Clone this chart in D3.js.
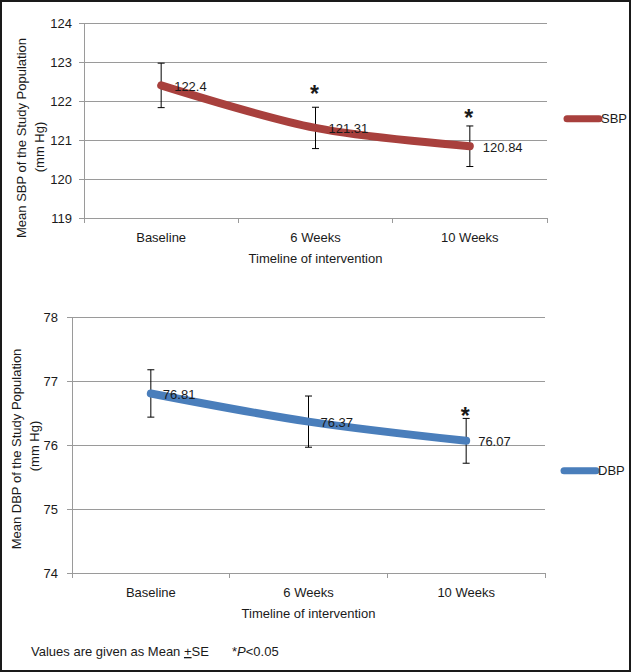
<!DOCTYPE html>
<html>
<head>
<meta charset="utf-8">
<script src="https://cdn.jsdelivr.net/npm/d3@7"></script>
<style>
  html, body { margin: 0; padding: 0; background: #fff; }
  svg { display: block; }
  text { font-family: "Liberation Sans", Arial, sans-serif; fill: #1a1a1a; }
</style>
</head>
<body>
<script>
// ---- data ----
const categories = ["Baseline", "6 Weeks", "10 Weeks"];
const sbpMean = [122.4, 121.31, 120.84];
const sbpSE = [0.57, 0.53, 0.52];
const sbpSigMark = [null, 122.3, 121.7];   // where the "*" sits (data units)
const sbpTicks = [119, 120, 121, 122, 123, 124];
const dbpMean = [76.81, 76.37, 76.07];
const dbpSE = [0.37, 0.40, 0.35];
const dbpSigMark = [null, null, 76.54];
const dbpTicks = [74, 75, 76, 77, 78];

const W = 631, H = 672;
const svg = d3.select("body").append("svg").attr("width", W).attr("height", H);
svg.append("rect").attr("width", W).attr("height", H).attr("fill", "#fff");

const gridColor = "#9a9a9a";

function panel(cfg) {
  const g = svg.append("g");
  const x = d3.scaleBand().domain(categories).range([cfg.x0, cfg.x1]).paddingInner(0).paddingOuter(0);
  const y = d3.scaleLinear().domain([cfg.ticks[0], cfg.ticks[cfg.ticks.length - 1]]).range([cfg.y0, cfg.y1]);
  const cx = c => x(c) + x.bandwidth() / 2;

  // gridlines
  g.selectAll(".grid").data(cfg.ticks.slice(1)).join("line")
    .attr("x1", cfg.x0).attr("x2", cfg.x1)
    .attr("y1", d => y(d)).attr("y2", d => y(d))
    .attr("stroke", gridColor).attr("stroke-width", 1).attr("shape-rendering", "crispEdges");

  // y axis
  const ya = g.append("g").attr("transform", `translate(${cfg.x0},0)`)
    .call(d3.axisLeft(y).tickValues(cfg.ticks).tickSize(5).tickPadding(cfg.tickPad).tickFormat(d3.format("d")));
  ya.select(".domain").attr("stroke", gridColor).attr("shape-rendering", "crispEdges");
  ya.selectAll(".tick line").attr("stroke", gridColor).attr("shape-rendering", "crispEdges");
  ya.selectAll(".tick text").style("font-size", "13px").attr("fill", "#1a1a1a")
    .style("font-family", '"Liberation Sans", Arial, sans-serif');

  // x axis: ticks at category boundaries
  g.append("line").attr("x1", cfg.x0).attr("x2", cfg.x1).attr("y1", cfg.y0).attr("y2", cfg.y0)
    .attr("stroke", gridColor).attr("shape-rendering", "crispEdges");
  const bounds = categories.map(c => x(c)).concat([cfg.x1]);
  g.selectAll(".xt").data(bounds).join("line")
    .attr("x1", d => d).attr("x2", d => d).attr("y1", cfg.y0).attr("y2", cfg.y0 + 5)
    .attr("stroke", gridColor).attr("shape-rendering", "crispEdges");
  g.selectAll(".xl").data(categories).join("text")
    .attr("x", d => cx(d)).attr("y", cfg.y0 + 23.5).attr("text-anchor", "middle")
    .style("font-size", "13px").text(d => d);

  // axis titles
  g.append("text").attr("x", (cfg.x0 + cfg.x1) / 2).attr("y", cfg.y0 + 44.5)
    .attr("text-anchor", "middle").style("font-size", "13px").text("Timeline of intervention");
  g.append("text").attr("transform", `translate(${cfg.yt1x},${cfg.ytcy}) rotate(-90)`)
    .attr("text-anchor", "middle").style("font-size", "13px").text(cfg.ytitle);
  g.append("text").attr("transform", `translate(${cfg.yt2x},${cfg.ytcy2}) rotate(-90)`)
    .attr("text-anchor", "middle").style("font-size", "13px").text("(mm Hg)");

  // error bars
  const pts = categories.map((c, i) => ({ c, m: cfg.mean[i], se: cfg.se[i], sig: cfg.sig[i] }));
  pts.forEach(p => {
    const px = cx(p.c);
    g.append("line").attr("x1", px).attr("x2", px).attr("y1", y(p.m + p.se)).attr("y2", y(p.m - p.se))
      .attr("stroke", "#000").attr("stroke-width", 1);
    [p.m + p.se, p.m - p.se].forEach(v => {
      g.append("line").attr("x1", px - 3.5).attr("x2", px + 3.5).attr("y1", y(v)).attr("y2", y(v))
        .attr("stroke", "#000").attr("stroke-width", 1);
    });
  });

  // line
  const line = d3.line().x(d => cx(d.c)).y(d => y(d.m)).curve(d3.curveCatmullRom.alpha(0.5));
  g.append("path").datum(pts).attr("d", line).attr("fill", "none")
    .attr("stroke", cfg.color).attr("stroke-width", 8).attr("stroke-linecap", "round").attr("stroke-linejoin", "round");

  // data labels
  g.selectAll(".dl").data(pts).join("text")
    .attr("x", d => cx(d.c) + cfg.lblDx).attr("y", d => y(d.m) + 5.5)
    .style("font-size", "13px").text(d => d.m);

  // significance asterisks
  g.selectAll(".sig").data(pts.filter(p => p.sig != null)).join("text")
    .attr("x", d => cx(d.c) - 1).attr("y", d => y(d.sig) + 13).attr("text-anchor", "middle")
    .style("font-size", "23px").style("font-weight", "bold").text("*");

  // legend
  g.append("line").attr("x1", cfg.legX).attr("x2", cfg.legX + 32).attr("y1", cfg.legY).attr("y2", cfg.legY)
    .attr("stroke", cfg.color).attr("stroke-width", 7).attr("stroke-linecap", "round");
  g.append("text").attr("x", cfg.legX + 34).attr("y", cfg.legY + 4.5)
    .style("font-size", "13px").text(cfg.name);
}

panel({
  x0: 84, x1: 547, y0: 218, y1: 23, ticks: sbpTicks, tickPad: 7,
  mean: sbpMean, se: sbpSE, sig: sbpSigMark, color: "#A8403D", name: "SBP",
  ytitle: "Mean SBP of the Study Population", yt1x: 26, ytcy: 138, yt2x: 44, ytcy2: 147,
  lblDx: 13, legX: 567, legY: 118.7
});

panel({
  x0: 72, x1: 545, y0: 573.3, y1: 317.3, ticks: dbpTicks, tickPad: 9,
  mean: dbpMean, se: dbpSE, sig: dbpSigMark, color: "#4A7EBB", name: "DBP",
  ytitle: "Mean DBP of the Study Population", yt1x: 21, ytcy: 449, yt2x: 39, ytcy2: 446,
  lblDx: 12, legX: 564, legY: 470.7
});

// footnote
const fn = svg.append("text").attr("x", 31).attr("y", 656).style("font-size", "13px");
fn.append("tspan").text("Values are given as Mean ");
fn.append("tspan").attr("text-decoration", "underline").style("text-decoration", "underline").text("+");
fn.append("tspan").text("SE");
const fn2 = svg.append("text").attr("x", 232).attr("y", 656).style("font-size", "13px");
fn2.append("tspan").text("*");
fn2.append("tspan").style("font-style", "italic").text("P");
fn2.append("tspan").text("<0.05");

// outer frame
svg.append("rect").attr("x", 1).attr("y", 1).attr("width", W - 2).attr("height", H - 2)
  .attr("fill", "none").attr("stroke", "#1a1a1a").attr("stroke-width", 2);
</script>
</body>
</html>
